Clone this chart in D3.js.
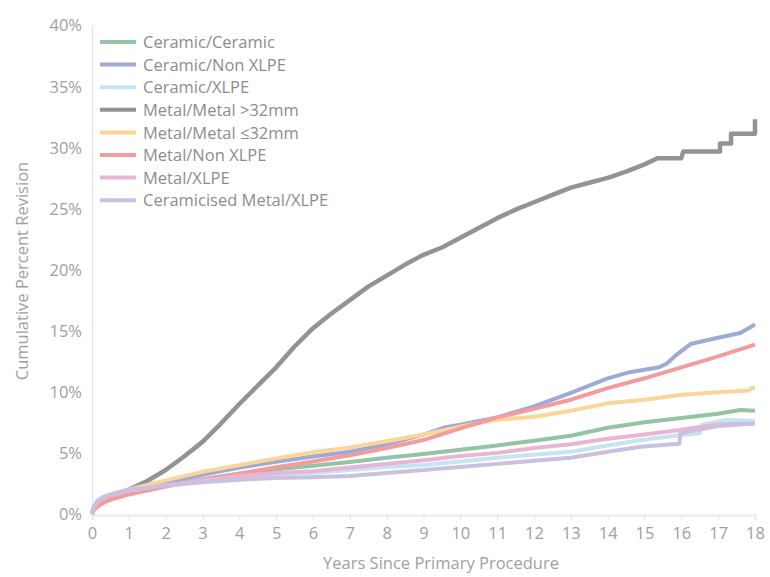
<!DOCTYPE html>
<html>
<head>
<meta charset="utf-8">
<script src="https://cdn.jsdelivr.net/npm/d3@7"></script>
<style>
  body { margin: 0; background: #fff; }
  text { font-family: "Open Sans", "Noto Sans", sans-serif; }
  .tick text { fill: #a0a0a0; font-size: 16.5px; }
  .legend text { fill: #8d8d8d; font-size: 16.5px; }
  .title { fill: #a0a0a0; font-size: 16.5px; }
</style>
</head>
<body>
<div id="chart"></div>
<script>
const width = 770,
  height = 577;

const margin = { top: 25, right: 15, bottom: 63, left: 92 };

// series names, legend order
const seriesNames = [
  "Ceramic/Ceramic",
  "Ceramic/Non XLPE",
  "Ceramic/XLPE",
  "Metal/Metal >32mm",
  "Metal/Metal \u226432mm",
  "Metal/Non XLPE",
  "Metal/XLPE",
  "Ceramicised Metal/XLPE"
];

const seriesColors = ["#94c3a5", "#9eaad6", "#c6e4f2", "#939393", "#fcd598", "#f29c9c", "#e9b5d6", "#c9c1df"];

// [years, cumulative percent revision]
const ceramicCeramic = [[0,0],[0.05,0.5],[0.15,1.0],[0.3,1.3],[0.5,1.5],[1,1.9],[2,2.35],[3,2.85],[4,3.3],[5,3.65],[6,3.95],[7,4.25],[8,4.6],[9,4.9],[10,5.25],[11,5.6],[12,6.0],[13,6.4],[14,7.05],[15,7.5],[16,7.85],[17,8.2],[17.6,8.5],[18,8.45]];
const ceramicNonXlpe = [[0,0],[0.05,0.5],[0.15,1.0],[0.3,1.3],[0.5,1.5],[1,1.95],[2,2.6],[3,3.2],[4,3.8],[5,4.28],[6,4.7],[7,5.1],[8,5.7],[9,6.5],[9.6,7.1],[10,7.3],[11,7.9],[12,8.8],[13,9.9],[14,11.1],[14.6,11.6],[15.4,12.0],[15.6,12.3],[15.9,13.1],[16.25,13.9],[16.9,14.35],[17.6,14.8],[18,15.5]];
const ceramicXlpe = [[0,0],[0.05,0.5],[0.15,1.0],[0.3,1.3],[0.5,1.5],[1,1.9],[2,2.3],[3,2.65],[4,2.95],[5,3.2],[6,3.35],[7,3.6],[8,3.85],[9,4.0],[10,4.3],[11,4.6],[12,4.85],[13,5.1],[14,5.6],[15,6.1],[15.97,6.45],[16.5,6.6],[16.55,7.3],[17.2,7.7],[18,7.6]];
const metalMetalLarge = [[0,0],[0.05,0.5],[0.15,1.0],[0.3,1.3],[0.5,1.5],[1,2.0],[1.5,2.7],[2,3.6],[2.5,4.7],[3,5.9],[3.5,7.4],[4,9.0],[4.5,10.5],[5,12.0],[5.5,13.7],[6,15.2],[6.5,16.4],[7,17.5],[7.5,18.6],[8,19.5],[8.5,20.4],[9,21.2],[9.5,21.8],[10,22.6],[10.5,23.4],[11,24.2],[11.5,24.9],[12,25.5],[12.5,26.1],[13,26.7],[13.5,27.1],[14,27.5],[14.5,28.0],[15,28.6],[15.35,29.1],[16.0,29.1],[16.05,29.65],[17.05,29.65],[17.05,30.3],[17.35,30.3],[17.35,31.1],[18.0,31.1],[18.0,32.3]];
const metalMetalSmall = [[0,0],[0.05,0.5],[0.15,1.0],[0.3,1.3],[0.5,1.55],[1,2.0],[2,2.75],[3,3.45],[4,4.0],[5,4.55],[6,5.05],[7,5.45],[8,5.95],[9,6.5],[10,7.15],[11,7.7],[12,7.95],[13,8.45],[14,9.05],[15,9.35],[16,9.75],[17,9.95],[17.85,10.1],[17.9,10.3],[18,10.3]];
const metalNonXlpe = [[0,0],[0.05,0.3],[0.15,0.6],[0.3,0.9],[0.5,1.15],[1,1.6],[2,2.25],[3,2.8],[4,3.3],[5,3.82],[6,4.3],[7,4.8],[8,5.4],[9,6.05],[10,7.0],[11,7.9],[12,8.6],[13,9.35],[14,10.3],[15,11.1],[16,12.0],[17,12.9],[18,13.85]];
const metalXlpe = [[0,0],[0.05,0.5],[0.15,1.0],[0.3,1.3],[0.5,1.5],[1,1.9],[2,2.35],[3,2.75],[4,3.1],[5,3.35],[6,3.5],[7,3.8],[8,4.1],[9,4.4],[10,4.75],[11,5.0],[12,5.4],[13,5.7],[14,6.15],[15,6.5],[16,6.9],[17,7.35],[18,7.4]];
const ceramicisedMetalXlpe = [[0,0],[0.05,0.6],[0.15,1.1],[0.3,1.4],[0.5,1.6],[1,2.0],[2,2.3],[3,2.6],[4,2.8],[5,2.95],[6,3.0],[7,3.1],[8,3.35],[9,3.6],[10,3.85],[11,4.1],[12,4.35],[13,4.6],[14,5.1],[14.9,5.5],[15.95,5.75],[15.97,6.6],[16.5,6.9],[17,7.2],[18,7.4]];

const seriesValues = [ceramicCeramic, ceramicNonXlpe, ceramicXlpe, metalMetalLarge, metalMetalSmall, metalNonXlpe, metalXlpe, ceramicisedMetalXlpe];

const xTicks = d3.range(0, 19, 1);
const yTicks = [0, 5, 10, 15, 20, 25, 30, 35, 40];

const x = d3.scaleLinear()
  .domain([0, 18])
  .range([margin.left, width - margin.right]);

const y = d3.scaleLinear()
  .domain([0, 40])
  .range([height - margin.bottom, margin.top]);

const svg = d3.select("#chart").append("svg")
  .attr("width", width)
  .attr("height", height);

// left axis
const yAxis = svg.append("g")
  .attr("transform", `translate(${margin.left},0)`)
  .call(d3.axisLeft(y).tickValues(yTicks).tickFormat(d => d + "%").tickSize(0).tickPadding(10));
yAxis.select(".domain").attr("stroke", "#e8e8e8").attr("stroke-width", 1.5);
yAxis.selectAll(".tick text").attr("dy", "0.36em");

// bottom axis
const xAxis = svg.append("g")
  .attr("transform", `translate(0,${height - margin.bottom + 1})`)
  .call(d3.axisBottom(x).tickValues(xTicks).tickSize(5).tickPadding(7));
xAxis.select(".domain").attr("stroke", "#ebebeb").attr("stroke-width", 2);
xAxis.selectAll(".tick line").attr("stroke", "#e3e3e3");

// titles
svg.append("text")
  .attr("class", "title")
  .attr("text-anchor", "middle")
  .attr("x", 441)
  .attr("y", 569)
  .text("Years Since Primary Procedure");

svg.append("text")
  .attr("class", "title")
  .attr("text-anchor", "middle")
  .attr("transform", "translate(28,271) rotate(-90)")
  .text("Cumulative Percent Revision");

// lines
const line = d3.line()
  .x(d => x(d[0]))
  .y(d => y(d[1]));

svg.append("g")
  .selectAll("path")
  .data(seriesValues)
  .join("path")
  .attr("fill", "none")
  .attr("stroke", (d, i) => seriesColors[i])
  .attr("stroke-width", (d, i) => i === 3 ? 4.5 : 4)
  .attr("stroke-linejoin", "round")
  .attr("d", line);

// legend
const legend = svg.append("g").attr("class", "legend")
  .attr("transform", "translate(100,42)");

const rows = legend.selectAll("g")
  .data(seriesNames)
  .join("g")
  .attr("transform", (d, i) => `translate(0,${i * 22.6})`);

rows.append("line")
  .attr("x1", 0).attr("x2", 36)
  .attr("stroke", (d, i) => seriesColors[i])
  .attr("stroke-width", 4);

rows.append("text")
  .attr("x", 43)
  .attr("dy", "0.38em")
  .attr("fill", (d, i) => i === 4 ? "#b5b5b5" : null)
  .text(d => d);
</script>
</body>
</html>
